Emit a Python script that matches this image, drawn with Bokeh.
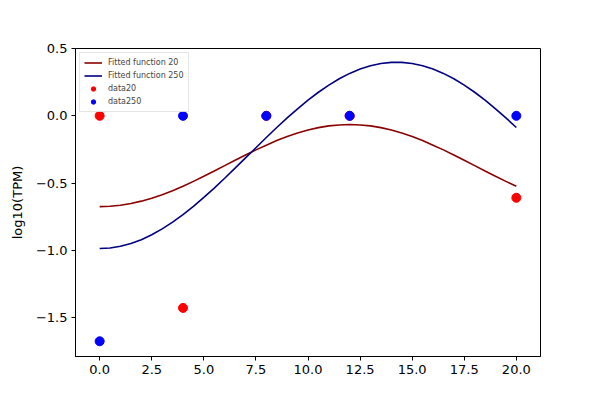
from bokeh.plotting import figure
from bokeh.models import FixedTicker, Range1d, Legend, LegendItem
from bokeh.embed import file_html
from bokeh.resources import INLINE

# ---- data ----
fit_x = [0, 0.5, 1, 1.5, 2, 2.5, 3, 3.5, 4, 4.5, 5, 5.5, 6, 6.5, 7, 7.5, 8, 8.5, 9, 9.5,
         10, 10.5, 11, 11.5, 12, 12.5, 13, 13.5, 14, 14.5, 15, 15.5, 16, 16.5, 17, 17.5,
         18, 18.5, 19, 19.5, 20]
fit20 = [-0.675, -0.672, -0.665, -0.652, -0.634, -0.612, -0.586, -0.556, -0.523, -0.487,
         -0.449, -0.410, -0.370, -0.330, -0.291, -0.253, -0.218, -0.184, -0.154, -0.128,
         -0.106, -0.088, -0.075, -0.068, -0.065, -0.068, -0.075, -0.088, -0.106, -0.128,
         -0.154, -0.184, -0.218, -0.253, -0.291, -0.330, -0.370, -0.410, -0.449, -0.487,
         -0.523]
fit250 = [-0.986, -0.982, -0.969, -0.948, -0.920, -0.884, -0.840, -0.790, -0.734, -0.673,
          -0.606, -0.537, -0.464, -0.389, -0.313, -0.237, -0.161, -0.087, -0.016, 0.052,
          0.116, 0.175, 0.228, 0.275, 0.315, 0.347, 0.372, 0.389, 0.397, 0.397,
          0.389, 0.372, 0.347, 0.315, 0.275, 0.228, 0.175, 0.116, 0.052, -0.016,
          -0.087]
data_x = [0, 4, 8, 12, 20]
data20 = [0.0, -1.427, 0.0, 0.0, -0.609]
data250 = [-1.675, 0.0, 0.0, 0.0, 0.0]

x_ticks = [0, 2.5, 5, 7.5, 10, 12.5, 15, 17.5, 20]
x_tick_labels = ["0.0", "2.5", "5.0", "7.5", "10.0", "12.5", "15.0", "17.5", "20.0"]
y_ticks = [-1.5, -1.0, -0.5, 0.0, 0.5]
y_tick_labels = ["\u22121.5", "\u22121.0", "\u22120.5", "0.0", "0.5"]

FONT = "DejaVu Sans"

p = figure(width=592, height=386, output_backend="svg", toolbar_location=None,
           x_range=Range1d(-1.16, 21.16), y_range=Range1d(-1.788, 0.5),
           min_border_left=75, min_border_right=52, min_border_top=48, min_border_bottom=30)

p.xgrid.visible = False
p.ygrid.visible = False
p.outline_line_color = "black"
p.outline_line_width = 1
p.outline_line_alpha = 1.0
p.background_fill_color = "white"
p.border_fill_color = "white"

l20 = p.line(fit_x, fit20, line_color="#8B0000", line_width=1.6)
l250 = p.line(fit_x, fit250, line_color="#000080", line_width=1.6)
s20 = p.scatter(data_x, data20, size=9, fill_color="red", line_color="red")
s250 = p.scatter(data_x, data250, size=9, fill_color="blue", line_color="blue")

for ax, ticks, labels in ((p.xaxis[0], x_ticks, x_tick_labels), (p.yaxis[0], y_ticks, y_tick_labels)):
    ax.ticker = FixedTicker(ticks=ticks)
    ax.major_label_overrides = {t: l for t, l in zip(ticks, labels)}
    ax.minor_tick_line_color = None
    ax.major_tick_out = 4
    ax.major_tick_in = 0
    ax.major_tick_line_color = "black"
    ax.axis_line_color = "black"
    ax.major_label_text_font = FONT
    ax.major_label_text_font_size = "13px"
    ax.major_label_text_color = "black"
    ax.major_label_standoff = 4

p.yaxis.axis_label = "log10(TPM)"
p.yaxis.axis_label_text_font = FONT
p.yaxis.axis_label_text_font_size = "13px"
p.yaxis.axis_label_text_font_style = "normal"
p.yaxis.axis_label_text_color = "black"
p.yaxis.axis_label_standoff = 8

legend = Legend(items=[
    LegendItem(label="Fitted function 20", renderers=[l20]),
    LegendItem(label="Fitted function 250", renderers=[l250]),
    LegendItem(label="data20", renderers=[s20]),
    LegendItem(label="data250", renderers=[s250]),
], location="top_left")
legend.margin = 4
legend.padding = 4
legend.spacing = 2
legend.glyph_height = 11
legend.glyph_width = 18
legend.label_standoff = 6
legend.label_height = 11
legend.label_text_font = FONT
legend.label_text_font_size = "8px"
legend.label_text_baseline = "middle"
legend.border_line_color = "#cccccc"
legend.border_line_width = 1
legend.background_fill_alpha = 0.8
p.add_layout(legend)

open("out.html", "w").write(file_html(p, INLINE))
